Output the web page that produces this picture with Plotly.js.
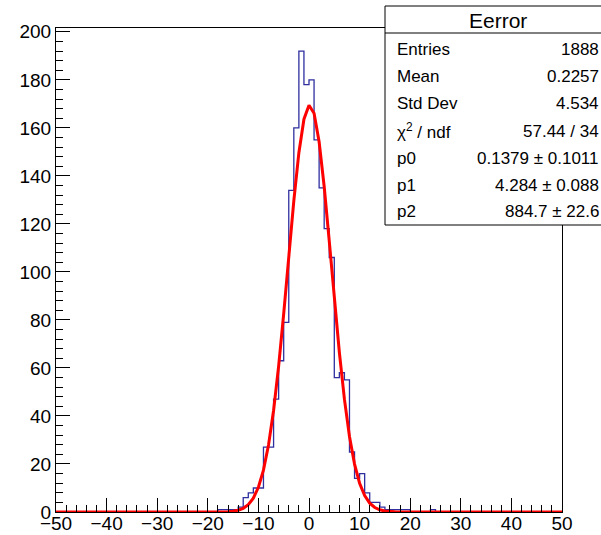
<!DOCTYPE html>
<html>
<head>
<meta charset="utf-8">
<script src="https://cdn.plot.ly/plotly-3.0.1.min.js"></script>
<style>html,body{margin:0;padding:0;background:#fff;}#chart{width:601px;height:535px;}</style>
</head>
<body>
<div id="chart"></div>
<script>
// ---- data ----
const histName = "Eerror";
const xMin = -50, xMax = 50, binWidth = 1;
// bin contents, bins of width 1 from -50 to 50
const counts = [
  0,0,0,0,0,0,0,0,0,0,
  0,0,0,0,0,0,0,0,0,0,
  0,0,0,0,0,0,0,0,0,0,
  0,0,1,1,1,1,2,6,8,10,
  10,27,27,47,63,79,134,160,192,178,
  180,155,135,118,106,56,58,55,25,14,
  16,8,4,4,2,1,1,1,1,1,
  0,0,0,0,1,0,0,0,0,0,
  0,0,0,0,0,0,0,0,0,0,
  0,0,0,0,0,0,0,0,0,0
];
// fit (gaussian) parameters read from stats box / picture
const fitMean = 0.1379;
const fitSigma = 4.284;
const fitPeak = 169.5;
const fitNpx = 100;
// stats box
const statLabels = ["Entries", "Mean", "Std Dev", "\u03c7<sup>2</sup> / ndf", "p0", "p1", "p2"];
const statValues = ["1888", "0.2257", "4.534", "57.44 / 34", "0.1379 \u00b1 0.1011", "4.284 \u00b1 0.088", "884.7 \u00b1 22.6"];
const xTicks = [-50, -40, -30, -20, -10, 0, 10, 20, 30, 40, 50];
const yTicks = [0, 20, 40, 60, 80, 100, 120, 140, 160, 180, 200];

// ---- build traces ----
const hx = [], hy = [];
for (let i = 0; i < counts.length; i++) { hx.push(xMin + i * binWidth); hy.push(counts[i]); }
hx.push(xMax); hy.push(counts[counts.length - 1]);

const fx = [], fy = [];
for (let i = 0; i <= fitNpx; i++) {
  const x = xMin + (xMax - xMin) * i / fitNpx;
  fx.push(x);
  fy.push(fitPeak * Math.exp(-0.5 * Math.pow((x - fitMean) / fitSigma, 2)));
}

const traces = [
  {x: hx, y: hy, type: 'scatter', mode: 'lines', line: {shape: 'hv', color: '#2f2fa0', width: 1.3}, hoverinfo: 'skip'},
  {x: fx, y: fy, type: 'scatter', mode: 'lines', line: {color: '#ff0000', width: 3}, hoverinfo: 'skip'}
];

const L = 56, R = 39, T = 28, B = 23, W = 601, H = 535;
const pw = W - L - R, ph = H - T - B;
const px = v => (v - L) / pw;
const py = v => (H - B - v) / ph;

const font = {family: '"Liberation Sans", Arial, Helvetica, sans-serif', color: '#000'};
const annotations = [];
annotations.push({xref: 'paper', yref: 'paper', x: px(498), y: py(20.5), text: histName, showarrow: false,
  xanchor: 'center', yanchor: 'middle', font: Object.assign({size: 21}, font)});
const rowY = [49, 76.5, 103.5, 131, 158, 185, 212];
for (let i = 0; i < statLabels.length; i++) {
  annotations.push({xref: 'paper', yref: 'paper', x: px(395), y: py(rowY[i]), text: statLabels[i], showarrow: false,
    xanchor: 'left', yanchor: 'middle', font: Object.assign({size: 17}, font)});
  annotations.push({xref: 'paper', yref: 'paper', x: px(601), y: py(rowY[i]), text: statValues[i], showarrow: false,
    xanchor: 'right', yanchor: 'middle', font: Object.assign({size: 17}, font)});
}

const shapes = [
  {type: 'rect', xref: 'paper', yref: 'paper', x0: px(385), x1: px(640), y0: py(225), y1: py(6),
   line: {color: '#000', width: 1}, fillcolor: '#fff', layer: 'above'},
  {type: 'line', xref: 'paper', yref: 'paper', x0: px(385), x1: px(640), y0: py(33), y1: py(33),
   line: {color: '#000', width: 1}, layer: 'above'}
];

const axisCommon = {
  showgrid: false, zeroline: false, showline: true, mirror: true, linecolor: '#000', linewidth: 1,
  ticks: 'inside', tickcolor: '#000', ticklen: 14, tickwidth: 1,
  tickfont: Object.assign({size: 19}, font), automargin: false, fixedrange: true
};

const layout = {
  width: W, height: H,
  margin: {l: L, r: R, t: T, b: B, pad: 0},
  paper_bgcolor: '#fff', plot_bgcolor: '#fff',
  showlegend: false,
  xaxis: Object.assign({}, axisCommon, {range: [xMin, xMax], tickmode: 'array', tickvals: xTicks,
    ticktext: xTicks.map(v => v < 0 ? '\u2212' + (-v) : String(v)), ticklabelstandoff: -6,
    minor: {dtick: 2, tick0: 0, ticks: 'inside', ticklen: 7, tickcolor: '#000', showgrid: false}}),
  yaxis: Object.assign({}, axisCommon, {range: [0, 201.6], tickmode: 'array', tickvals: yTicks, ticktext: yTicks.map(String),
    minor: {dtick: 4, tick0: 0, ticks: 'inside', ticklen: 7, tickcolor: '#000', showgrid: false}}),
  annotations: annotations,
  shapes: shapes
};

Plotly.newPlot('chart', traces, layout, {staticPlot: true, displayModeBar: false});
</script>
</body>
</html>
